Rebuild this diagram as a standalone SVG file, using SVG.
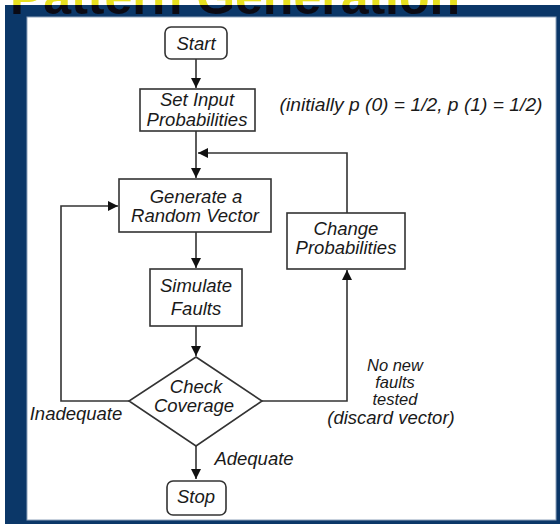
<svg xmlns="http://www.w3.org/2000/svg" width="560" height="524" viewBox="0 0 560 524">
<defs>
<marker id="arr" viewBox="0 0 10 10" refX="10" refY="5" markerWidth="10" markerHeight="10" markerUnits="userSpaceOnUse" orient="auto">
<path d="M0,0 L10,5 L0,10 z" fill="#111"/>
</marker>
<clipPath id="below"><rect x="0" y="5" width="560" height="20"/></clipPath>
<clipPath id="above"><rect x="0" y="0" width="560" height="5"/></clipPath>
</defs>
<style>
.t{font-family:"Liberation Sans",Arial,sans-serif;font-style:italic;font-size:18.5px;fill:#1a1a1a;text-anchor:middle}
.s{font-size:16.5px}
.box{fill:#fff;stroke:#333;stroke-width:1.6}
.ln{fill:none;stroke:#333;stroke-width:1.6}
.ttl{font-family:"Liberation Sans",Arial,sans-serif;font-weight:bold;font-size:50px}
</style>
<rect x="0" y="0" width="560" height="524" fill="#fff"/>
<rect x="5" y="5" width="555" height="519" fill="#0b3768"/>
<g id="title">
<text class="ttl" x="10" y="14" fill="#e8e020" clip-path="url(#above)">Pattern Generation</text>
<text class="ttl" x="10" y="14" fill="#0a0a14" clip-path="url(#below)">Pattern Generation</text>
</g>
<rect x="27" y="17" width="529" height="503" fill="#fff" stroke="#8fa3bb" stroke-width="1"/>
<g id="connectors">
<line class="ln" x1="196" y1="59" x2="196" y2="88" marker-end="url(#arr)"/>
<line class="ln" x1="196" y1="131" x2="196" y2="178" marker-end="url(#arr)"/>
<polyline class="ln" points="347,213 347,153 198,153" marker-end="url(#arr)"/>
<line class="ln" x1="196" y1="232" x2="196" y2="268" marker-end="url(#arr)"/>
<line class="ln" x1="196" y1="326" x2="196" y2="356" marker-end="url(#arr)"/>
<polyline class="ln" points="129,401 61,401 61,206 118,206" marker-end="url(#arr)"/>
<polyline class="ln" points="262,401 347,401 347,270" marker-end="url(#arr)"/>
<line class="ln" x1="196" y1="446" x2="196" y2="479" marker-end="url(#arr)"/>
</g>
<g id="start">
<rect class="box" x="165" y="27" width="62" height="32" rx="6"/>
<text class="t" x="196" y="50">Start</text>
</g>
<g id="setinput">
<rect class="box" x="140" y="89" width="115" height="42"/>
<text class="t" x="197" y="106">Set Input</text>
<text class="t" x="197" y="126">Probabilities</text>
</g>
<g id="note">
<text class="t" x="411" y="111" textLength="263" lengthAdjust="spacingAndGlyphs">(initially p (0) = 1/2, p (1) = 1/2)</text>
</g>
<g id="generate">
<rect class="box" x="119" y="179" width="152" height="53"/>
<text class="t" x="196" y="203">Generate a</text>
<text class="t" x="195" y="222">Random Vector</text>
</g>
<g id="simulate">
<rect class="box" x="150" y="269" width="92" height="57"/>
<text class="t" x="196" y="292">Simulate</text>
<text class="t" x="196" y="315">Faults</text>
</g>
<g id="change">
<rect class="box" x="287" y="213" width="118" height="56"/>
<text class="t" x="346" y="235">Change</text>
<text class="t" x="346" y="254">Probabilities</text>
</g>
<g id="check">
<polygon class="box" points="196,357 262,401 196,446 129,401"/>
<text class="t" x="196" y="393">Check</text>
<text class="t" x="194" y="412">Coverage</text>
</g>
<g id="stop">
<rect class="box" x="167" y="481" width="59" height="34" rx="6"/>
<text class="t" x="196" y="503">Stop</text>
</g>
<g id="labels">
<text class="t" x="76" y="420">Inadequate</text>
<text class="t" x="254" y="465">Adequate</text>
<text class="t s" x="395" y="371">No new</text>
<text class="t s" x="395" y="388">faults</text>
<text class="t s" x="395" y="405">tested</text>
<text class="t" x="391" y="424">(discard vector)</text>
</g>
</svg>
